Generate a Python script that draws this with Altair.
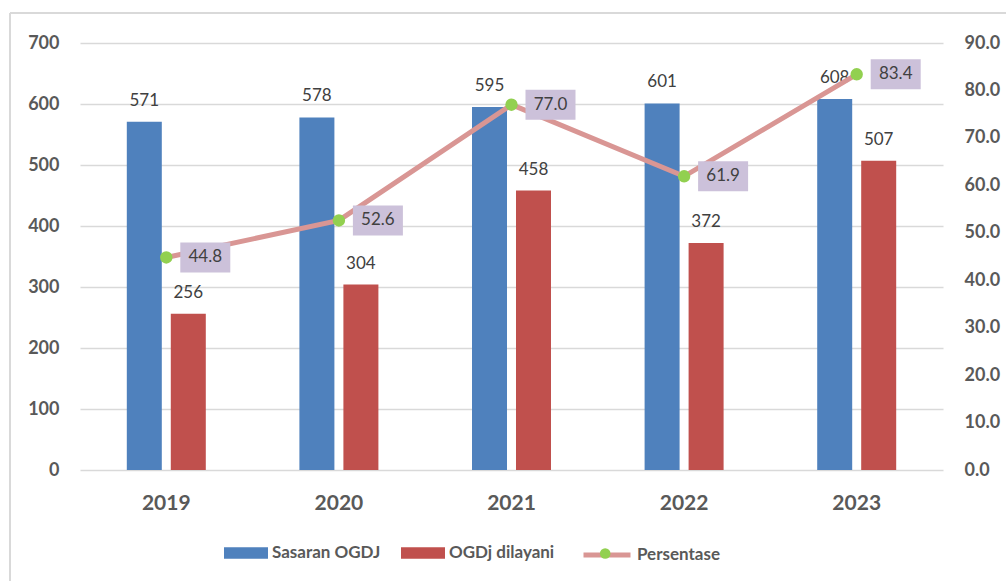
import altair as alt
import pandas as pd

# Yearly oral-health service figures
years = ["2019", "2020", "2021", "2022", "2023"]
sasaran = [571, 578, 595, 601, 608]
dilayani = [256, 304, 458, 372, 507]
persentase = [44.8, 52.6, 77.0, 61.9, 83.4]

series_names = ["Sasaran OGDJ", "OGDj dilayani"]
bar_colors = ["#4F81BD", "#C0504D"]
line_color = "#D99694"
dot_color = "#92D050"
box_color = "#CCC1DA"
text_color = "#404040"
axis_color = "#595959"
grid_color = "#D9D9D9"
FONT = "Lato"

bars_df = pd.DataFrame({
    "year": years * 2,
    "series": [series_names[0]] * len(years) + [series_names[1]] * len(years),
    "value": sasaran + dilayani,
})
pct_df = pd.DataFrame({
    "year": years,
    "pct": persentase,
    "line": ["Persentase"] * len(years),
    "marker": ["Persentase"] * len(years),
})
frame_df = pd.DataFrame({"k": [0]})

x_enc = alt.X(
    "year:N",
    scale=alt.Scale(paddingInner=0.2874, paddingOuter=0.1437),
    axis=alt.Axis(
        title=None, labelAngle=0, ticks=False, tickSize=0, domain=False,
        labelFont=FONT, labelFontSize=21, labelFontWeight="bold",
        labelColor=axis_color, labelPadding=22,
    ),
)

y_left = alt.Y(
    "value:Q",
    scale=alt.Scale(domain=[0, 700], nice=False),
    axis=alt.Axis(
        title=None, values=list(range(0, 701, 100)), grid=True,
        gridColor=grid_color, gridWidth=1.5, domain=False, ticks=False, tickSize=0,
        labelPadding=21, labelFont=FONT, labelFontSize=18,
        labelFontWeight="bold", labelColor=axis_color,
    ),
)

y_right = alt.Y(
    "pct:Q",
    scale=alt.Scale(domain=[0, 90], nice=False),
    axis=alt.Axis(
        title=None, orient="right", values=list(range(0, 91, 10)),
        format=".1f", grid=False, domain=False, ticks=False, tickSize=0,
        labelPadding=21, labelFont=FONT, labelFontSize=18,
        labelFontWeight="bold", labelColor=axis_color,
    ),
)

x_off = alt.XOffset(
    "series:N",
    sort=series_names,
    scale=alt.Scale(domain=series_names, paddingInner=0.2045, paddingOuter=0.5),
)

bars = alt.Chart(bars_df).mark_bar().encode(
    x=x_enc,
    xOffset=x_off,
    y=y_left,
    color=alt.Color(
        "series:N",
        sort=series_names,
        scale=alt.Scale(domain=series_names, range=bar_colors),
        legend=alt.Legend(
            title=None, orient="none", legendX=144, legendY=488,
            direction="horizontal", symbolType="M-1,-0.26H1V0.26H-1Z",
            symbolSize=1936, symbolStrokeWidth=0, symbolOpacity=1,
            labelFont=FONT, labelFontSize=17, labelFontWeight="bold",
            labelColor=axis_color, labelOffset=4, columnPadding=20,
            padding=0,
        ),
    ),
)

bar_text = alt.Chart(bars_df).mark_text(
    dy=-16, baseline="alphabetic", align="center",
    font=FONT, fontSize=17, color=text_color,
).encode(
    x=x_enc,
    xOffset=x_off,
    y=y_left,
    text=alt.Text("value:Q"),
)

frame_v = alt.Chart(frame_df).mark_rule(color=grid_color, strokeWidth=2).encode(
    x=alt.value(-70), y=alt.value(-30), y2=alt.value(600)
)
frame_h = alt.Chart(frame_df).mark_rule(color=grid_color, strokeWidth=2).encode(
    x=alt.value(-70), x2=alt.value(1000), y=alt.value(-30)
)

line = alt.Chart(pct_df).mark_line(strokeWidth=5, strokeCap="round").encode(
    x=x_enc,
    y=y_right,
    stroke=alt.Stroke(
        "line:N",
        scale=alt.Scale(range=[line_color]),
        legend=alt.Legend(
            title=None, orient="none", legendX=501, legendY=486,
            symbolType="stroke", symbolSize=2209, symbolStrokeWidth=5,
            symbolStrokeColor=line_color,
            labelFont=FONT, labelFontSize=17, labelFontWeight="bold",
            labelColor=axis_color, labelOffset=4, padding=0, zindex=1,
        ),
    ),
)

points = alt.Chart(pct_df).mark_point(
    filled=True, fill=dot_color, size=154, opacity=1, strokeWidth=0
).encode(
    x=x_enc,
    y=y_right,
    shape=alt.Shape(
        "marker:N",
        scale=alt.Scale(range=["circle"]),
        legend=alt.Legend(
            title=None, orient="none", legendX=519.7, legendY=505,
            symbolSize=113, symbolFillColor=dot_color, symbolStrokeWidth=0,
            symbolOpacity=1, labelExpr="''", padding=0, zindex=2,
        ),
    ),
)

boxes = alt.Chart(pct_df).mark_point(
    shape="M0.28,-0.3H1.28V0.3H0.28Z", size=10000, filled=True,
    fill=box_color, opacity=1, strokeWidth=0,
).encode(x=x_enc, y=y_right)

pct_text = alt.Chart(pct_df).mark_text(
    dx=39, align="center", baseline="middle",
    font=FONT, fontSize=17, color=text_color,
).encode(
    x=x_enc,
    y=y_right,
    text=alt.Text("pct:Q", format=".1f"),
)

left = alt.layer(frame_v, frame_h, bars, bar_text)
right = alt.layer(line, points, boxes, pct_text)

chart = (
    alt.layer(left, right)
    .resolve_scale(y="independent")
    .properties(
        width=863, height=427,
        autosize=alt.AutoSizeParams(type="none"),
        padding={"left": 80, "top": 43, "right": 63, "bottom": 111},
        background="white",
    )
    .configure_view(stroke=None)
)

chart.save("out.html", embed_options={"renderer": "svg", "actions": False})
